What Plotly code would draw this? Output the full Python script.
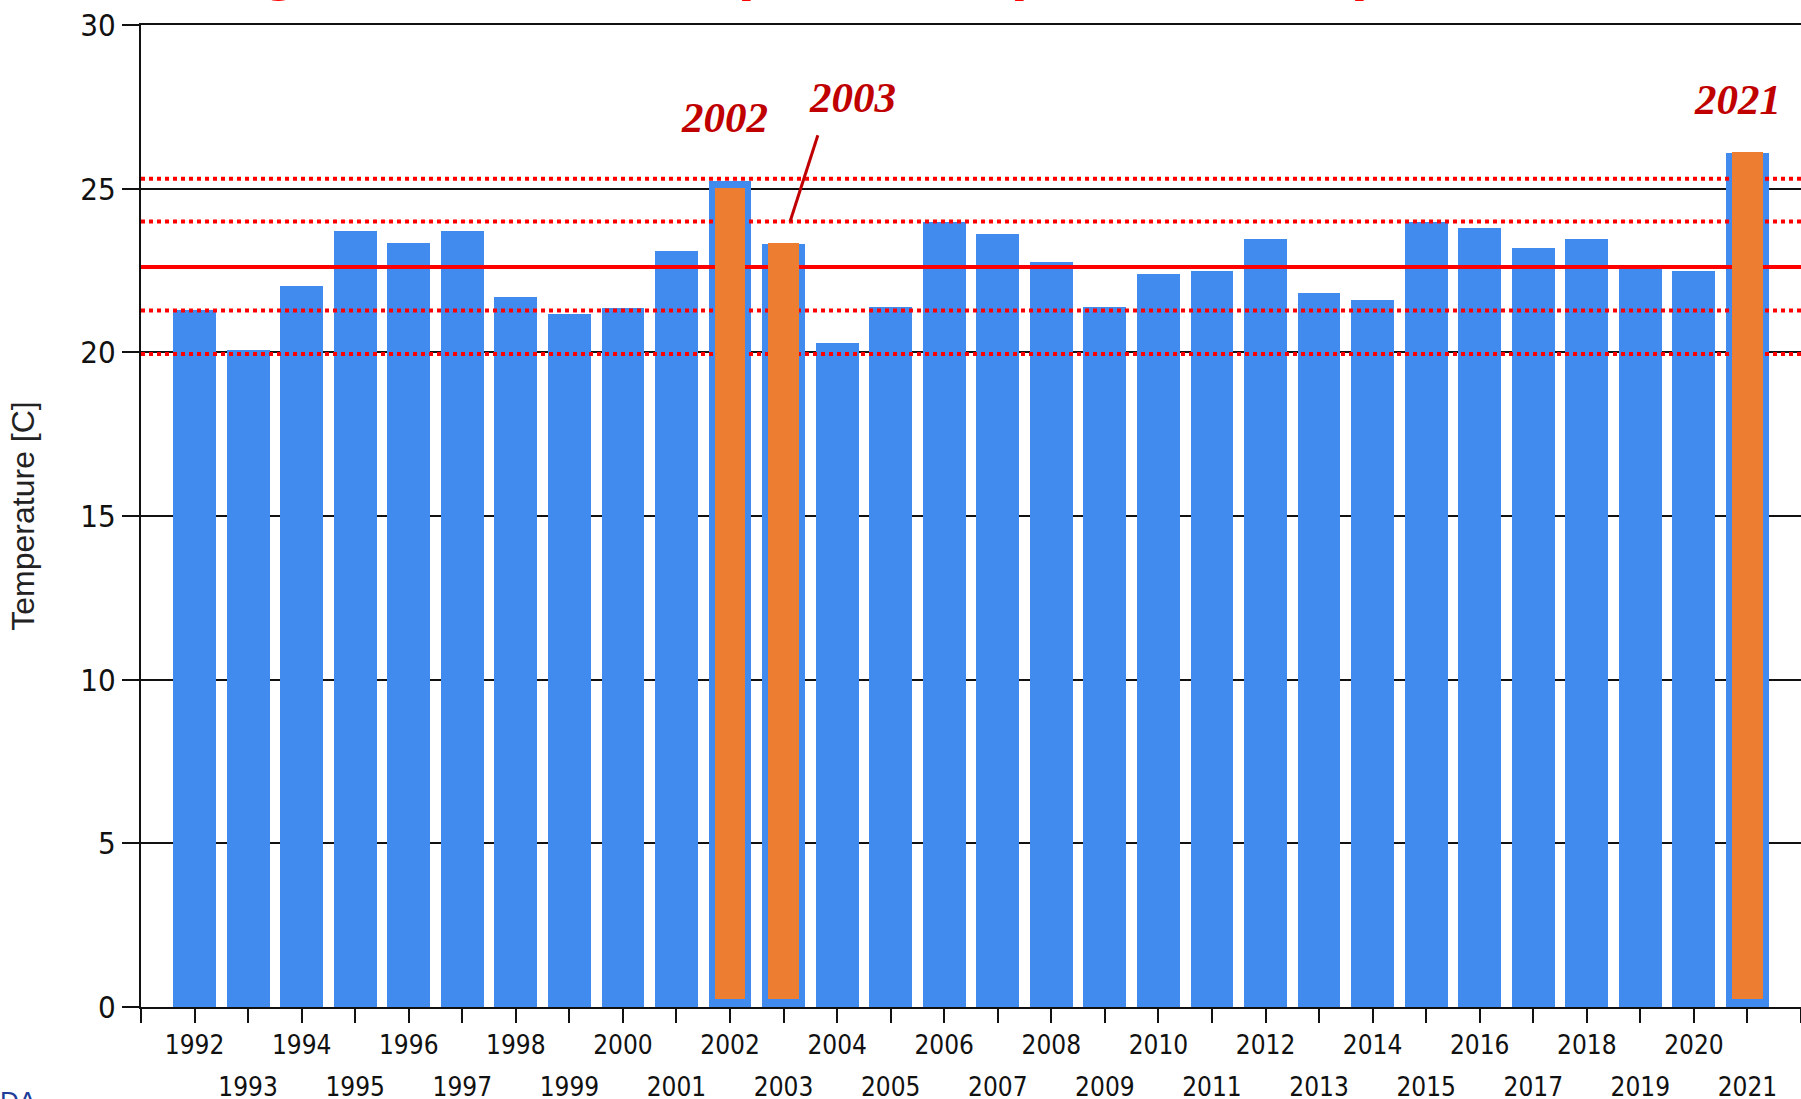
import plotly.graph_objects as go

# ---------------- data ----------------
years = list(range(1992, 2022))
temps = [21.30, 20.08, 22.04, 23.70, 23.35, 23.70, 21.69, 21.16, 21.34, 23.10,
         25.22, 23.32, 20.28, 21.40, 23.98, 23.60, 22.75, 21.40, 22.40, 22.50,
         23.45, 21.80, 21.60, 23.98, 23.80, 23.20, 23.45, 22.60, 22.50, 26.10]

hl_years = [2002, 2003, 2021]
hl_top = [25.02, 23.35, 26.13]
hl_base = [0.25, 0.25, 0.25]

ref_mean = 22.61
ref_solid = [ref_mean]
ref_dotted = [19.95, 21.28, 24.00, 25.30]

tick_years = list(range(1991, 2023))
even_years = [y for y in years if y % 2 == 0]
odd_years = [y for y in years if y % 2 == 1]
tick_text_main = [str(y) if y in even_years else "" for y in tick_years]
tick_text_odd = [str(y) for y in odd_years]

title_text = "Average Summer Temperature (1992 - 2021)"
ylabel = "Temperature [C]"
footer_text = "DA"

callouts = [  # label, x (year), y (temperature)
    ("2002", 2001.9, 27.17),
    ("2003", 2004.28, 27.78),
    ("2021", 2020.82, 27.72),
]
pointer = dict(x0=2003.64, y0=26.63, x1=2003.12, y1=23.99)

# ---------------- layout geometry ----------------
W, H = 1801, 1099
ML, MR, MT, MB = 141, 0, 25, 92
PW, PH = W - ML - MR, H - MT - MB


def px_x(px):
    return (px - ML) / PW


def px_y(py):
    return (H - MB - py) / PH


BLUE = "#418BEE"
ORANGE = "#ED7D31"
RED = "#FF0000"
DARKRED = "#C00000"
AXC = "#111111"
COND = "DejaVu Sans Condensed, Liberation Sans Narrow, sans-serif"

fig = go.Figure()

fig.add_trace(go.Bar(x=years, y=temps, width=0.8, marker=dict(color=BLUE, line=dict(width=0)),
                     showlegend=False, hoverinfo="x+y"))

x_span = [tick_years[0], tick_years[-1]]
for v in ref_dotted:
    fig.add_trace(go.Scatter(x=x_span, y=[v, v], mode="lines",
                             line=dict(color=RED, width=4, dash="dot"),
                             showlegend=False, hoverinfo="skip"))
for v in ref_solid:
    fig.add_trace(go.Scatter(x=x_span, y=[v, v], mode="lines",
                             line=dict(color=RED, width=4),
                             showlegend=False, hoverinfo="skip"))

fig.add_trace(go.Bar(x=hl_years, y=[t - b for t, b in zip(hl_top, hl_base)], base=hl_base,
                     width=0.57, marker=dict(color=ORANGE, line=dict(width=0)),
                     xaxis="x2", yaxis="y2", showlegend=False))

annotations = []
for txt, xv, yv in callouts:
    annotations.append(dict(x=xv, y=yv, xref="x", yref="y", text="<b><i>" + txt + "</i></b>",
                            showarrow=False, xanchor="center", yanchor="middle",
                            font=dict(family="Liberation Serif, Times New Roman, serif",
                                      size=43, color=DARKRED)))
annotations.append(dict(x=px_x(88), y=px_y(3), xref="paper", yref="paper",
                        text="<b>" + title_text + "</b>", showarrow=False,
                        xanchor="left", yanchor="bottom",
                        font=dict(family="Liberation Sans, Arial, sans-serif", size=62, color=RED)))
annotations.append(dict(x=px_x(-2), y=px_y(1084), xref="paper", yref="paper",
                        text=footer_text, showarrow=False, xanchor="left", yanchor="top",
                        font=dict(family="Liberation Sans, Arial, sans-serif", size=26, color="#1F3C99")))

fig.update_layout(
    template="none",
    width=W, height=H,
    margin=dict(l=ML, r=MR, t=MT, b=MB, pad=0),
    paper_bgcolor="white", plot_bgcolor="white",
    barmode="overlay", bargap=0,
    showlegend=False,
    annotations=annotations,
    shapes=[dict(type="line", xref="x", yref="y", **pointer,
                 line=dict(color=DARKRED, width=3), layer="above")],
    xaxis=dict(range=x_span, tickmode="array", tickvals=tick_years, ticktext=tick_text_main,
               automargin=False, showgrid=False, zeroline=False, showline=True,
               linecolor=AXC, linewidth=2, mirror=True, ticklabeloverflow="allow",
               ticks="outside", ticklen=14, tickwidth=2, tickcolor=AXC, ticklabelstandoff=0,
               tickfont=dict(family=COND, size=26, color=AXC), tickangle=0),
    xaxis2=dict(range=x_span, overlaying="x", anchor="y2", side="bottom",
                tickmode="array", tickvals=odd_years, ticktext=tick_text_odd,
                automargin=False, showgrid=False, zeroline=False, showline=False,
                ticks="", ticklabelstandoff=62, ticklabeloverflow="allow",
                tickfont=dict(family=COND, size=26, color=AXC), tickangle=0),
    yaxis=dict(range=[0, 30], tickmode="array", tickvals=[0, 5, 10, 15, 20, 25, 30],
               automargin=False, showgrid=True, gridcolor=AXC, gridwidth=2, zeroline=False,
               showline=True, linecolor=AXC, linewidth=2, ticklabeloverflow="allow",
               ticks="outside", ticklen=17, tickwidth=2, tickcolor=AXC, ticklabelstandoff=0,
               tickfont=dict(family=COND, size=31, color=AXC),
               title=dict(text=ylabel, standoff=36,
                          font=dict(family="Liberation Sans, Arial, sans-serif", size=32, color="#222"))),
    yaxis2=dict(range=[0, 30], overlaying="y", anchor="x2", visible=False, automargin=False),
)

fig.write_html("out.html", config={"displayModeBar": False},
               post_script="document.body.style.margin='0px';")
